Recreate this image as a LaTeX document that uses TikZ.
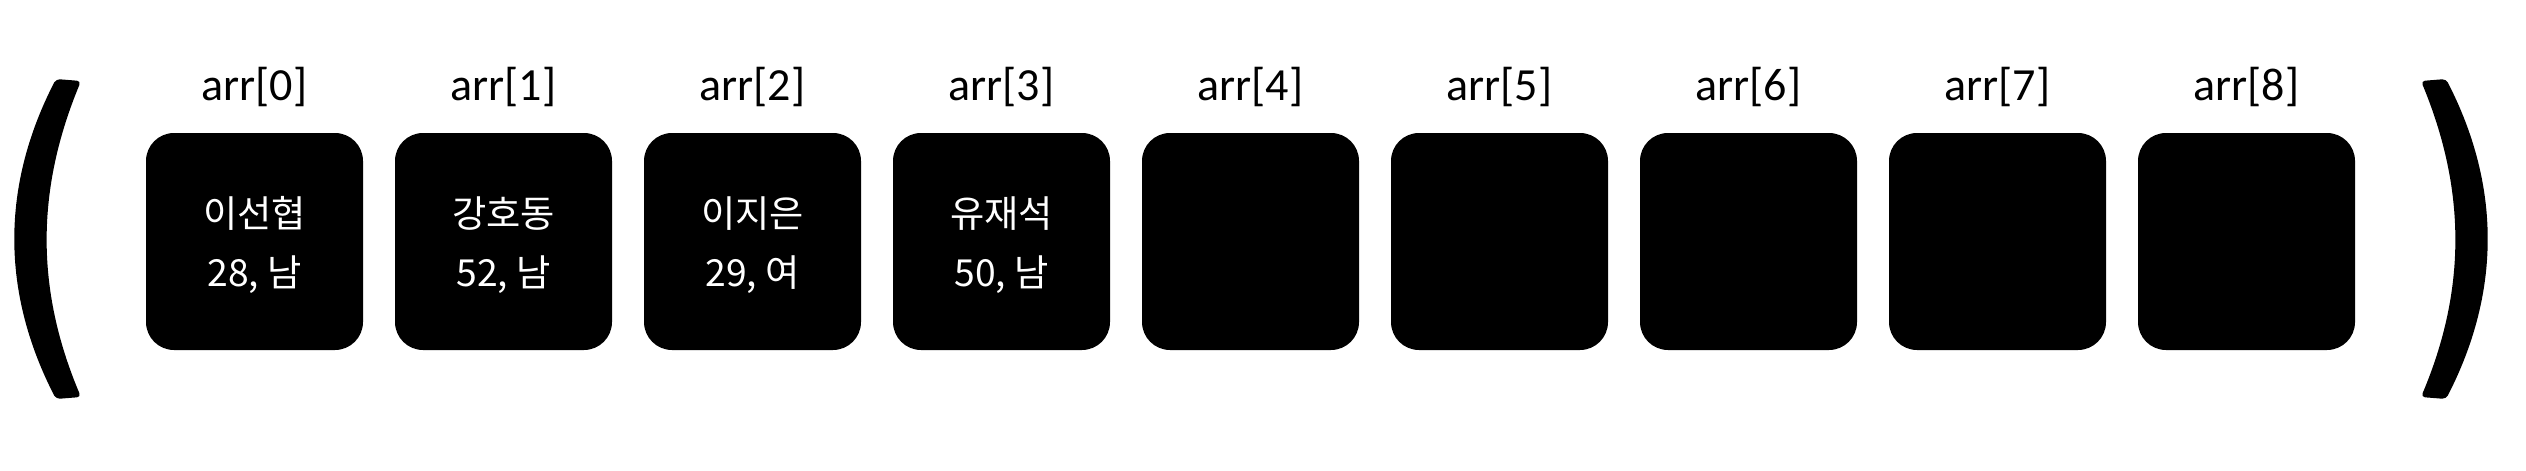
\documentclass[tikz,border=0pt]{standalone}
\usepackage{fontspec}
\setmainfont{Carlito}
\newfontfamily\krfont{Noto Sans CJK KR}
\begin{document}
\begin{tikzpicture}[x=0.1mm,y=-0.1mm,
  cell/.style={fill=black,rounded corners=2.8mm,minimum width=21.7mm,minimum height=21.7mm,inner sep=0pt,text=white,align=center,font=\krfont\fontsize{10.6pt}{16.6pt}\selectfont},
  celltext/.style={text=white,align=center,inner sep=0pt,font=\krfont\fontsize{10.6pt}{16.6pt}\selectfont},
  idx/.style={anchor=base,inner sep=0pt,font=\fontsize{13.1pt}{15pt}\selectfont},
  parenshape/.style={fill=black,rounded corners=0.4mm}]
\useasboundingbox (0,0) rectangle (2526,470);
% cells
\foreach \i in {0,...,8}{
  \node[cell] (c\i) at ({254.5+249*\i},241.5) {};
}
\node[celltext] (t0) at (254.5,245) {이선협\\28, 남};
\node[celltext] (t1) at (503.5,245) {강호동\\52, 남};
\node[celltext] (t2) at (752.5,245) {이지은\\29, 여};
\node[celltext] (t3) at (1001.5,245) {유재석\\50, 남};
% labels
\foreach \i in {0,...,8}{
  \node[idx] (l\i) at ({254.5+249*\i},100) {arr[\i]};
}
% left parenthesis
\fill[parenshape] (56,79) .. controls (1,186) and (1,292) .. (56,399)
  -- (81,397) .. controls (35.7,290) and (35.7,190) .. (81,81) -- cycle;
% right parenthesis
\fill[parenshape] (2446,79) .. controls (2501,186) and (2501,292) .. (2446,399)
  -- (2421,397) .. controls (2466.3,290) and (2466.3,190) .. (2421,81) -- cycle;
\end{tikzpicture}
\end{document}
